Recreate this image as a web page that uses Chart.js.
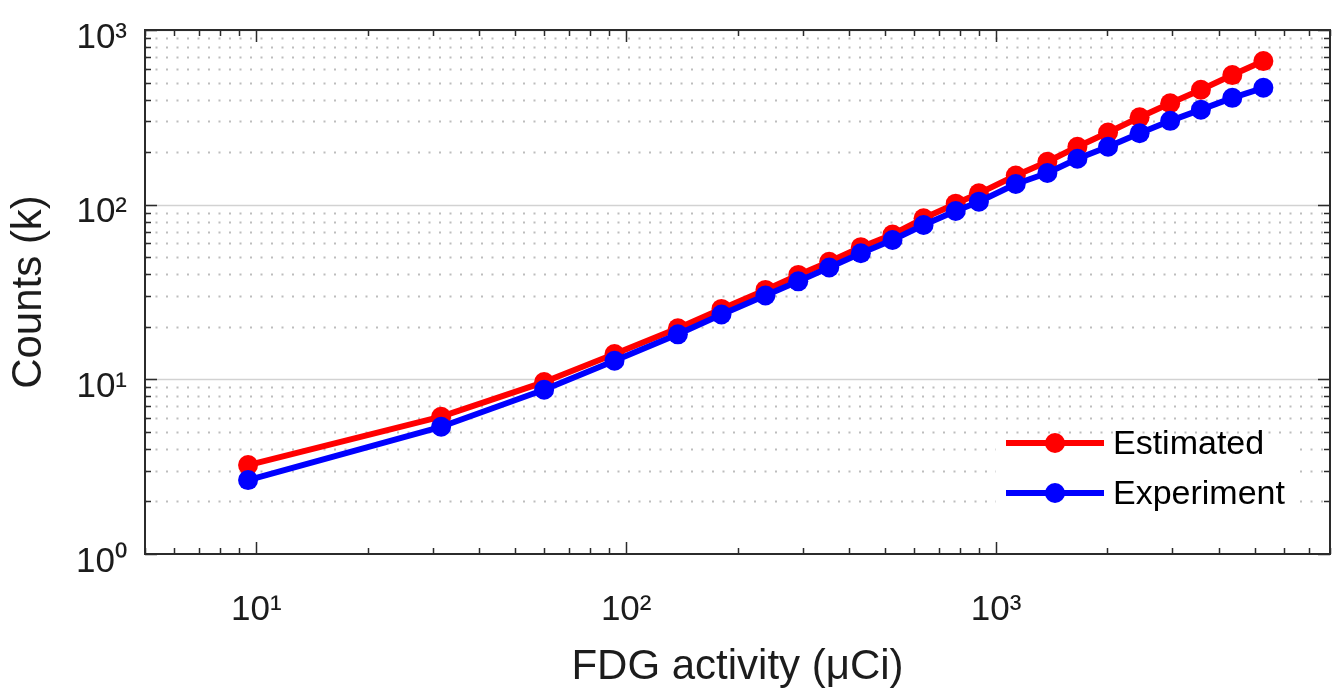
<!DOCTYPE html>
<html>
<head>
<meta charset="utf-8">
<script src="https://cdn.jsdelivr.net/npm/chart.js@4.4.1/dist/chart.umd.min.js"></script>
<style>
  html, body { margin: 0; padding: 0; background: #ffffff; }
  canvas { display: block; }
</style>
</head>
<body>
<canvas id="chart" width="1341" height="700"></canvas>
<script>
// ---- data ----
const activity = [9.5, 31.6, 60, 93, 138, 181, 238, 292, 354, 431, 525, 637, 778, 899, 1131, 1377, 1660, 2009, 2445, 2958, 3581, 4355, 5284];
const estimated = [3.23, 6.11, 9.65, 13.96, 19.6, 25.3, 32.5, 39.6, 47.1, 57.1, 67.5, 83.5, 101.3, 116.1, 146.9, 176.2, 214.7, 258.9, 316.3, 380.5, 455, 552, 664];
const experiment = [2.65, 5.35, 8.72, 12.77, 18.1, 23.5, 30.2, 36.4, 43.7, 52.7, 62.8, 76.5, 92, 104, 131.3, 151.8, 183.1, 214.7, 256.2, 302, 349.8, 409, 466.8];
const seriesNames = ['Estimated', 'Experiment'];
const xTickValues = [10, 100, 1000];
const xTickLabels = ['10\u00B9', '10\u00B2', '10\u00B3'];
const yTickValues = [1, 10, 100, 1000];
const yTickLabels = ['10\u2070', '10\u00B9', '10\u00B2', '10\u00B3'];
const xTitle = 'FDG activity (\u03BCCi)';
const yTitle = 'Counts (k)';

const FONT = "'Liberation Sans', Arial, Helvetica, sans-serif";
const TEXT = '#1c1c1c';
const RED = '#ff0000';
const BLUE = '#0000ff';

function logTicks(min, max) {
  const out = [];
  for (let e = Math.floor(Math.log10(min)); e <= Math.ceil(Math.log10(max)); e++) {
    for (let m = 1; m <= 9; m++) {
      const v = m * Math.pow(10, e);
      if (v >= min * 0.9999 && v <= max * 1.0001) out.push({ v: v, major: m === 1 });
    }
  }
  return out;
}

function labelFor(values, labels, value) {
  for (let i = 0; i < values.length; i++) {
    if (Math.abs(values[i] - value) / values[i] < 1e-6) return labels[i];
  }
  return '';
}

const framePlugin = {
  id: 'matlabFrame',
  beforeDatasetsDraw(chart) {
    const { ctx, chartArea: a, scales: { y } } = chart;
    ctx.save();
    ctx.beginPath();
    ctx.rect(a.left, a.top, a.right - a.left, a.bottom - a.top);
    ctx.clip();
    for (const t of logTicks(y.min, y.max)) {
      const py = Math.round(y.getPixelForValue(t.v)) + 0.5;
      if (t.major) {
        ctx.setLineDash([]);
        ctx.strokeStyle = '#d2d2d2';
        ctx.lineWidth = 1.5;
      } else {
        ctx.setLineDash([2, 8.5]);
        ctx.strokeStyle = '#bdbdbd';
        ctx.lineWidth = 2;
      }
      ctx.beginPath();
      ctx.moveTo(a.left, py);
      ctx.lineTo(a.right, py);
      ctx.stroke();
    }
    ctx.restore();
  },
  afterDatasetsDraw(chart) {
    const { ctx, chartArea: a, scales: { x, y } } = chart;
    ctx.save();
    ctx.setLineDash([]);
    ctx.strokeStyle = '#2b2b2b';
    ctx.lineWidth = 1.5;
    for (const t of logTicks(x.min, x.max)) {
      const px = Math.round(x.getPixelForValue(t.v)) + 0.5;
      const len = t.major ? 12 : 6;
      ctx.beginPath();
      ctx.moveTo(px, a.bottom); ctx.lineTo(px, a.bottom - len);
      ctx.moveTo(px, a.top); ctx.lineTo(px, a.top + len);
      ctx.stroke();
    }
    for (const t of logTicks(y.min, y.max)) {
      const py = Math.round(y.getPixelForValue(t.v)) + 0.5;
      const len = t.major ? 12 : 6;
      ctx.beginPath();
      ctx.moveTo(a.left, py); ctx.lineTo(a.left + len, py);
      ctx.moveTo(a.right, py); ctx.lineTo(a.right - len, py);
      ctx.stroke();
    }
    ctx.lineWidth = 2;
    ctx.strokeRect(a.left, a.top, a.right - a.left, a.bottom - a.top);

    // legend (inside the axes, lower right, no box)
    ctx.fillStyle = '#ffffff';
    ctx.fillRect(996, 437, 300, 78);
    const rows = [443, 493];
    chart.data.datasets.forEach((ds, i) => {
      const yy = rows[i];
      ctx.strokeStyle = ds.borderColor;
      ctx.lineWidth = ds.borderWidth;
      ctx.lineCap = 'butt';
      ctx.beginPath();
      ctx.moveTo(1006, yy); ctx.lineTo(1104, yy);
      ctx.stroke();
      ctx.fillStyle = ds.backgroundColor;
      ctx.beginPath();
      ctx.arc(1055, yy, ds.pointRadius, 0, Math.PI * 2);
      ctx.fill();
      ctx.fillStyle = '#000000';
      ctx.font = '34px ' + FONT;
      ctx.textAlign = 'left';
      ctx.textBaseline = 'middle';
      ctx.fillText(ds.label, 1113, yy + 2);
    });
    ctx.restore();
  }
};

const points = (ys) => activity.map((a, i) => ({ x: a, y: ys[i] }));

new Chart(document.getElementById('chart'), {
  type: 'line',
  data: {
    datasets: [
      {
        label: seriesNames[0], data: points(estimated),
        borderColor: RED, backgroundColor: RED, pointBackgroundColor: RED, pointBorderColor: RED,
        borderWidth: 6, pointRadius: 10, pointBorderWidth: 0, pointHoverRadius: 10,
        borderJoinStyle: 'round', tension: 0, order: 1
      },
      {
        label: seriesNames[1], data: points(experiment),
        borderColor: BLUE, backgroundColor: BLUE, pointBackgroundColor: BLUE, pointBorderColor: BLUE,
        borderWidth: 6, pointRadius: 10, pointBorderWidth: 0, pointHoverRadius: 10,
        borderJoinStyle: 'round', tension: 0, order: 0
      }
    ]
  },
  options: {
    responsive: false,
    animation: false,
    devicePixelRatio: 1,
    layout: { padding: { top: 30, right: 11, left: 0, bottom: 0 } },
    plugins: { legend: { display: false }, tooltip: { enabled: false } },
    scales: {
      x: {
        type: 'logarithmic', position: 'bottom', min: 5, max: 8000,
        grid: { display: false, drawTicks: false },
        border: { display: false },
        afterBuildTicks: (s) => { s.ticks = xTickValues.map(v => ({ value: v, major: true })); },
        afterFit: (s) => { s.height = 146; s.paddingLeft = 0; s.paddingRight = 0; },
        ticks: {
          autoSkip: false, maxRotation: 0, minRotation: 0, padding: 35,
          color: TEXT, font: { family: FONT, size: 35 },
          callback: (value) => labelFor(xTickValues, xTickLabels, value)
        },
        title: {
          display: true, text: xTitle, color: TEXT,
          font: { family: FONT, size: 42 }, padding: { top: 0, bottom: 7 }
        }
      },
      y: {
        type: 'logarithmic', position: 'left', min: 1, max: 1000,
        grid: { display: false, drawTicks: false },
        border: { display: false },
        afterBuildTicks: (s) => { s.ticks = yTickValues.map(v => ({ value: v, major: true })); },
        afterFit: (s) => { s.width = 145; s.paddingTop = 0; s.paddingBottom = 0; },
        ticks: {
          autoSkip: false, padding: 18, labelOffset: 8,
          color: TEXT, font: { family: FONT, size: 35 },
          callback: (value) => labelFor(yTickValues, yTickLabels, value)
        },
        title: {
          display: true, text: yTitle, color: TEXT,
          font: { family: FONT, size: 42 }, padding: { top: 4, bottom: 0 }
        }
      }
    }
  },
  plugins: [framePlugin]
});
</script>
</body>
</html>
